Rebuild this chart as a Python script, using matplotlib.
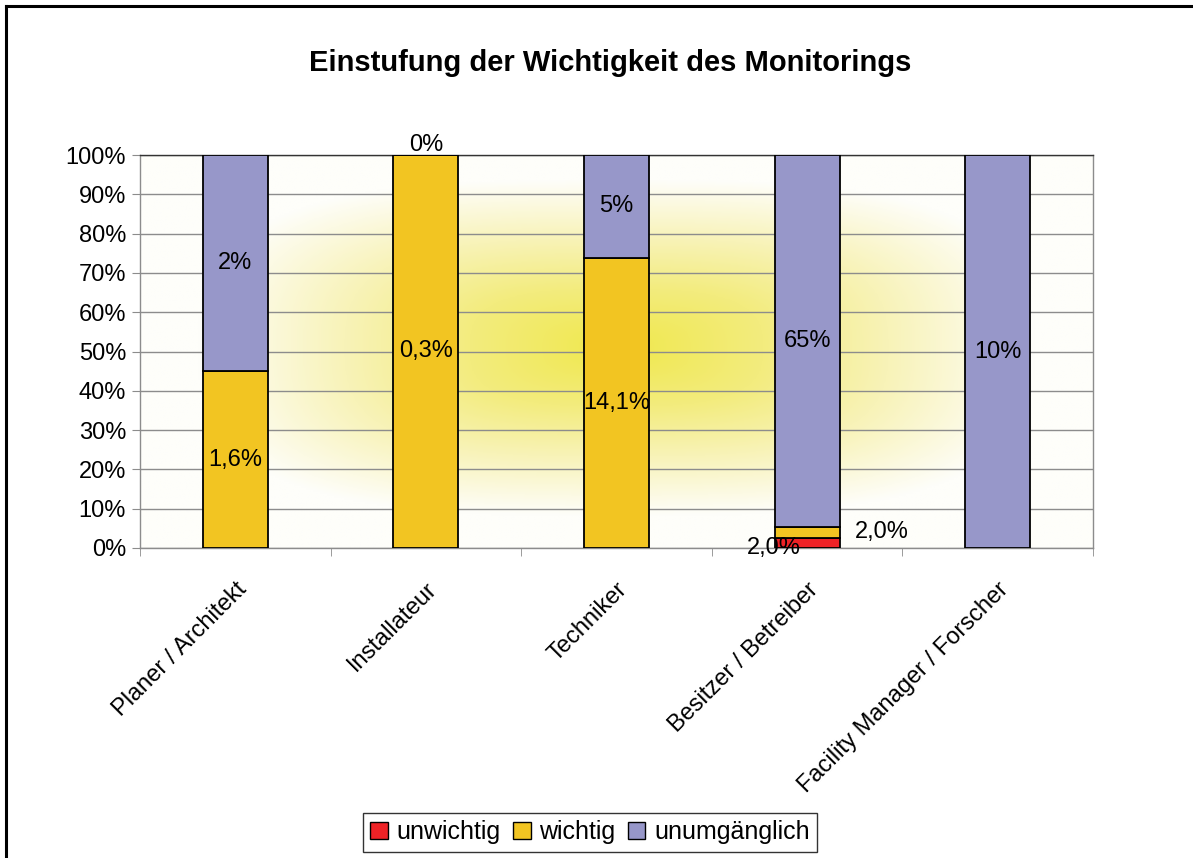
import numpy as np
import matplotlib
matplotlib.use("Agg")
import matplotlib.pyplot as plt
from matplotlib.colors import LinearSegmentedColormap
from matplotlib.lines import Line2D
from matplotlib.patches import Patch

plt.rcParams["font.family"] = ["Liberation Sans", "DejaVu Sans"]

categories = ["Planer / Architekt", "Installateur", "Techniker",
              "Besitzer / Betreiber", "Facility Manager / Forscher"]
unwichtig = [0.0, 0.0, 0.0, 2.6, 0.0]
wichtig = [45.0, 100.0, 73.8, 2.8, 0.0]
unumgaenglich = [55.0, 0.0, 26.2, 94.6, 100.0]

labels_unwichtig = [None, None, None, "2,0%", None]
labels_wichtig = ["1,6%", "0,3%", "14,1%", "2,0%", None]
labels_unumg = ["2%", "0%", "5%", "65%", "10%"]

series_names = ["unwichtig", "wichtig", "unumgänglich"]
colors = ["#ee2226", "#f2c522", "#9797c9"]

fig = plt.figure(figsize=(11.93, 8.58), dpi=100)
ax = fig.add_axes([140 / 1193, 1 - 548 / 858, 953 / 1193, 393 / 858])

# radial yellow glow behind the plot area
gx = np.linspace(-0.5, 4.5, 400)
gy = np.linspace(0, 100, 200)
X, Y = np.meshgrid(gx, gy)
p = 3.0
d = ((np.abs(X - 2.0) / 2.2) ** p + (np.abs(Y - 51) / 43) ** p) ** (1 / p)
d = np.clip(d, 0, 1)
glow = LinearSegmentedColormap.from_list(
    "glow", [(0, "#f0e84c"), (0.35, "#f3ec7e"), (0.65, "#f8f3b8"), (0.88, "#fcfae4"), (1, "#fefefa")])
ax.imshow(d, extent=(-0.5, 4.5, 0, 100), origin="lower", aspect="auto",
          cmap=glow, vmin=0, vmax=1, zorder=0, interpolation="bilinear")

x = np.arange(len(categories))
w = 0.34
ax.bar(x, unwichtig, w, color=colors[0], edgecolor="black", linewidth=1.3, zorder=3)
ax.bar(x, wichtig, w, bottom=unwichtig, color=colors[1], edgecolor="black",
       linewidth=1.3, zorder=3)
base3 = np.array(unwichtig) + np.array(wichtig)
ax.bar(x, unumgaenglich, w, bottom=base3, color=colors[2], edgecolor="black",
       linewidth=1.3, zorder=3)

fs = 17
for i in range(len(categories)):
    if labels_unwichtig[i]:
        ax.annotate(labels_unwichtig[i], (x[i], unwichtig[i] / 2), xytext=(-24, -4),
                    textcoords="offset points", ha="center", va="center", fontsize=fs, zorder=5)
    if labels_wichtig[i]:
        yc = unwichtig[i] + wichtig[i] / 2
        off = (54, 0) if i == 3 else (0, 0)
        ax.annotate(labels_wichtig[i], (x[i], yc), xytext=off, textcoords="offset points",
                    ha="center", va="center", fontsize=fs, zorder=5)
    yc = base3[i] + unumgaenglich[i] / 2
    off = (0, 7) if unumgaenglich[i] == 0 else (0, 0)
    ax.annotate(labels_unumg[i], (x[i], yc), xytext=off, textcoords="offset points",
                ha="center", va="center", fontsize=fs, zorder=5)

ax.set_xlim(-0.5, 4.5)
ax.set_ylim(0, 100)
ax.set_yticks(np.arange(0, 101, 10))
ax.set_yticklabels([f"{v}%" for v in range(0, 101, 10)], fontsize=17)
ax.yaxis.grid(True, color="#8c8c8c", linewidth=1, zorder=1)
ax.set_axisbelow(True)

ax.set_xticks(x)
ax.set_xticklabels(categories, rotation=45, ha="right", rotation_mode="anchor", fontsize=17)
ax.tick_params(axis="x", length=0, pad=22)
ax.set_xticks(np.arange(-0.5, 4.6, 1), minor=True)
ax.tick_params(axis="x", which="minor", length=6, color="#8c8c8c", direction="out")
ax.tick_params(axis="y", length=6, color="#8c8c8c", direction="out", pad=4)
for s in ax.spines.values():
    s.set_color("#8c8c8c")
    s.set_linewidth(1)
ax.spines["top"].set_color("#333333")

fig.text(610 / 1193, 1 - 63 / 858, "Einstufung der Wichtigkeit des Monitorings",
         ha="center", va="center", fontsize=21, fontweight="bold")

handles = [Patch(facecolor=c, edgecolor="black", linewidth=1) for c in colors]
leg = fig.legend(handles, series_names, loc="center", bbox_to_anchor=(590 / 1193, 1 - 832 / 858),
                 ncol=3, fontsize=18, frameon=True, fancybox=False, handlelength=0.7,
                 handleheight=0.7, handletextpad=0.35, columnspacing=0.5, borderpad=0.3)
leg.get_frame().set_edgecolor("black")
leg.get_frame().set_linewidth(1)

# outer chart border (left and top visible)
fig.add_artist(Line2D([6 / 1193, 6 / 1193], [0, 1 - 6 / 858], color="black", linewidth=2.2,
                      transform=fig.transFigure))
fig.add_artist(Line2D([6 / 1193, 1], [1 - 6 / 858, 1 - 6 / 858], color="black", linewidth=2.2,
                      transform=fig.transFigure))

fig.savefig("out.png", dpi=100)
